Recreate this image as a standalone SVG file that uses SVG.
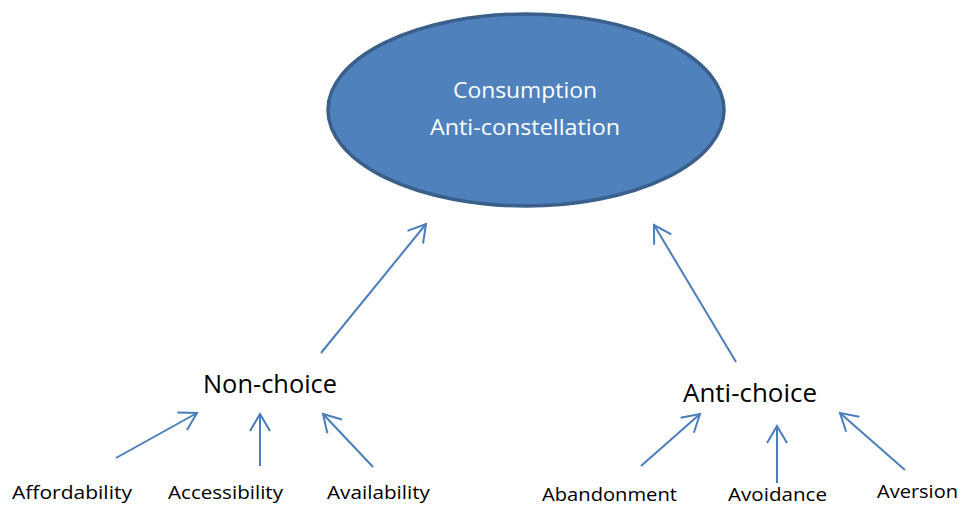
<svg xmlns="http://www.w3.org/2000/svg" width="964" height="506" viewBox="0 0 964 506">
<defs>
<marker id="arr" markerUnits="userSpaceOnUse" markerWidth="40" markerHeight="40" viewBox="-20 -20 40 40" refX="0" refY="0" orient="auto">
<path d="M -17 -10 L 0 0 L -17 10" fill="none" stroke="#4A7EBB" stroke-width="2"/>
</marker>
</defs>
<style>
.t{font-family:"Open Sans","Liberation Sans",sans-serif;fill:#000}
.w{font-family:"Open Sans","Liberation Sans",sans-serif;fill:#fff;font-size:22px}
.c{stroke:#4A7EBB;stroke-width:2;fill:none;marker-end:url(#arr)}
.m{font-size:25.5px}
.s{font-size:19px}
</style>
<rect width="964" height="506" fill="#fff"/>
<g id="consumption">
<ellipse cx="526" cy="110" rx="198" ry="96" fill="#4F81BD" stroke="#3A5F8B" stroke-width="3.5"/>
<text class="w" x="453" y="98" textLength="144" lengthAdjust="spacingAndGlyphs">Consumption</text>
<text class="w" x="430" y="135" textLength="190" lengthAdjust="spacingAndGlyphs">Anti-constellation</text>
</g>
<g id="non-choice"><text class="t m" x="203" y="393" textLength="134" lengthAdjust="spacingAndGlyphs">Non-choice</text></g>
<g id="anti-choice"><text class="t m" x="683" y="402" textLength="134" lengthAdjust="spacingAndGlyphs">Anti-choice</text></g>
<g id="affordability"><text class="t s" x="12" y="499" textLength="120" lengthAdjust="spacingAndGlyphs">Affordability</text></g>
<g id="accessibility"><text class="t s" x="168" y="499" textLength="115" lengthAdjust="spacingAndGlyphs">Accessibility</text></g>
<g id="availability"><text class="t s" x="327" y="499" textLength="103" lengthAdjust="spacingAndGlyphs">Availability</text></g>
<g id="abandonment"><text class="t s" x="542" y="500.5" textLength="135" lengthAdjust="spacingAndGlyphs">Abandonment</text></g>
<g id="avoidance"><text class="t s" x="728" y="500.5" textLength="99" lengthAdjust="spacingAndGlyphs">Avoidance</text></g>
<g id="aversion"><text class="t s" x="877" y="498" textLength="81" lengthAdjust="spacingAndGlyphs">Aversion</text></g>
<g id="connectors">
<line class="c" x1="321" y1="353" x2="426" y2="224"/>
<line class="c" x1="736" y1="362" x2="654" y2="225"/>
<line class="c" x1="116" y1="458" x2="197" y2="413"/>
<line class="c" x1="260" y1="466" x2="260" y2="414"/>
<line class="c" x1="373" y1="467" x2="323" y2="414"/>
<line class="c" x1="641" y1="466" x2="700" y2="414"/>
<line class="c" x1="777" y1="483" x2="777" y2="426"/>
<line class="c" x1="905" y1="470" x2="840" y2="413"/>
</g>
</svg>
